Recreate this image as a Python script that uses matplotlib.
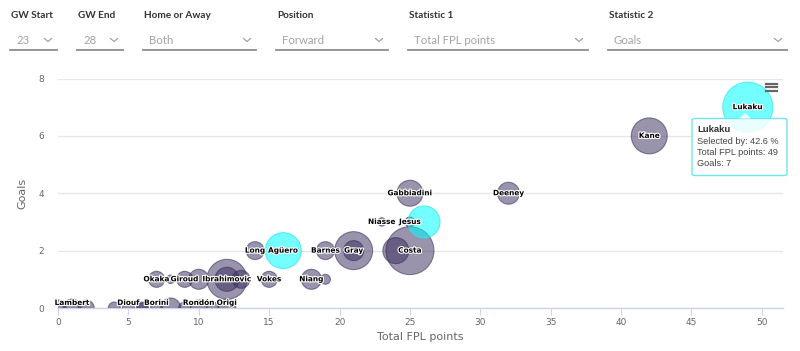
import matplotlib.pyplot as plt
import matplotlib.patheffects as pe
import numpy as np
from matplotlib.lines import Line2D
from matplotlib.patches import FancyBboxPatch, Polygon

W, H = 800, 351

# filter bar at the top
filter_labels = ["GW Start", "GW End", "Home or Away", "Position", "Statistic 1", "Statistic 2"]
filter_values = ["23", "28", "Both", "Forward", "Total FPL points", "Goals"]

# bubble data: x = Total FPL points, y = Goals, size = selected by %
names = ["", "Lambert", "", "", "Diouf", "", "", "Borini", "", "", "Rondón", "", "Origi",
         "Okaka", "", "Giroud", "", "Ibrahimovic", "", "", "Vokes", "Niang", "",
         "Long", "Agüero", "Barnes", "Gray", "", "", "Costa",
         "Niasse", "Jesus", "", "Gabbiadini", "Deeney", "Kane", "Lukaku"]
points = [0, 1, 2, 4, 5, 6, 6, 7, 8, 9, 10, 11, 12,
          7, 8, 9, 10, 12, 12, 13, 15, 18, 19,
          14, 16, 19, 21, 21, 24, 25,
          23, 25, 26, 25, 32, 42, 49]
goals = [0, 0, 0, 0, 0, 0, 0, 0, 0, 0, 0, 0, 0,
         1, 1, 1, 1, 1, 1, 1, 1, 1, 1,
         2, 2, 2, 2, 2, 2, 2,
         3, 3, 3, 4, 4, 6, 7]
selected = [3.4, 4.5, 3.4, 1.4, 1.4, 1.4, 0.6, 1.4, 5.9, 1.4, 3.4, 1.4, 4.5,
            3.4, 0.1, 3.4, 5.9, 26.9, 9.0, 4.5, 3.4, 5.9, 0.6,
            4.5, 21.5, 4.5, 24.1, 5.9, 10.7, 39.2,
            0.1, 0.6, 16.8, 10.7, 7.3, 21.5, 42.6]
highlight = [0] * 24 + [1] + [0] * 7 + [1] + [0] * 3 + [1]

tooltip_lines = ["Selected by: 42.6 %", "Total FPL points: 49", "Goals: 7"]


def fxy(x, y):
    # pixel position -> figure fraction
    return x / W, 1 - y / H


fig = plt.figure(figsize=(8, 3.51), dpi=100)

# ---- filter controls ----
lefts = [10, 77, 143, 276, 408, 608]
rights = [57, 123, 256, 388, 588, 787]
for lab, val, l, r in zip(filter_labels, filter_values, lefts, rights):
    fig.text(*fxy(l + 1, 15), lab, family="Lato", weight="bold", fontsize=7.2,
             color="#333333", va="center", ha="left")
    fig.text(*fxy(l + 6, 40), val, family="Lato", fontsize=8.2,
             color="#a3a3a3", va="center", ha="left")
    cx = r - 9
    xs = [cx - 3.5, cx, cx + 3.5]
    ys = [38.5, 41.5, 38.5]
    fig.add_artist(Line2D([x / W for x in xs], [1 - y / H for y in ys],
                          color="#9a9a9a", lw=0.8))
    fig.add_artist(Line2D([l / W, r / W], [1 - 50 / H, 1 - 50 / H],
                          color="#8c8a94", lw=1.3))

# ---- chart ----
x0, x1, y_top, y_bot = 58, 783, 78.5, 308
ax = fig.add_axes([x0 / W, 1 - y_bot / H, (x1 - x0) / W, (y_bot - y_top) / H])
ax.set_xlim(0, 51.5)
ax.set_ylim(0, 8)

sel = np.array(selected)
diam = np.sqrt(8 ** 2 + sel / sel.max() * (50 ** 2 - 8 ** 2))
sizes = (diam * 72 / 100) ** 2

grey_face = (0.216, 0.161, 0.353, 0.5)
grey_edge = (0.216, 0.161, 0.353, 0.55)
cyan_face = (0.0, 1.0, 1.0, 0.55)
cyan_edge = (0.2, 0.9, 0.92, 0.7)
faces = [cyan_face if h else grey_face for h in highlight]
edges = [cyan_edge if h else grey_edge for h in highlight]

ax.scatter(points, goals, s=sizes, c=faces, edgecolors=edges, linewidths=0.8, zorder=3)

outline = [pe.withStroke(linewidth=1.6, foreground="white")]
for n, px_, gy in zip(names, points, goals):
    if not n:
        continue
    if gy == 0:
        ax.annotate(n, (px_, gy), xytext=(0, 1.5), textcoords="offset points",
                    ha="center", va="bottom", fontsize=5.3, weight="bold",
                    color="black", path_effects=outline, zorder=5)
    else:
        ax.text(px_, gy, n, ha="center", va="center", fontsize=5.3, weight="bold",
                color="black", path_effects=outline, zorder=5)

ax.set_yticks([0, 2, 4, 6, 8])
ax.set_xticks(range(0, 51, 5))
ax.grid(axis="y", color="#e6e6e6", lw=1)
ax.set_axisbelow(True)
for s in ["top", "right", "left"]:
    ax.spines[s].set_visible(False)
ax.spines["bottom"].set_color("#ccd6eb")
ax.spines["bottom"].set_linewidth(1)
ax.tick_params(axis="x", length=5, color="#ccd6eb", labelsize=6.5, labelcolor="#666666", pad=2)
ax.tick_params(axis="y", length=0, labelsize=6.5, labelcolor="#666666", pad=10)
ax.set_xlabel("Total FPL points", fontsize=8, color="#666666", labelpad=4)
ax.set_ylabel("Goals", fontsize=8, color="#666666", labelpad=8)

# ---- hamburger menu ----
for yy in [84, 87.3, 90.7]:
    fig.add_artist(Line2D([766 / W, 777 / W], [1 - yy / H, 1 - yy / H],
                          color="#666666", lw=1.6))

# ---- tooltip ----
tl, tr, tt, tb = 692, 787, 118.5, 175.5
box = FancyBboxPatch((tl / W, 1 - tb / H), (tr - tl) / W, (tb - tt) / H,
                     boxstyle="round,pad=0,rounding_size=0.004",
                     transform=fig.transFigure, facecolor=(1, 1, 1, 0.85),
                     edgecolor="#6fe6ea", lw=1)
fig.add_artist(box)
tip = Polygon([fxy(739, 118.5), fxy(745, 113), fxy(751, 118.5)], closed=True,
              transform=fig.transFigure, facecolor=(1, 1, 1, 0.85), edgecolor="none")
fig.add_artist(tip)
fig.text(*fxy(697, 129.5), "Lukaku", family="Liberation Sans", weight="bold",
         fontsize=6.8, color="#333333", va="center")
for i, line in enumerate(tooltip_lines):
    fig.text(*fxy(697, 141.5 + i * 11), line, family="Liberation Sans",
             fontsize=6.6, color="#444444", va="center")

fig.savefig("out.png", dpi=100)
